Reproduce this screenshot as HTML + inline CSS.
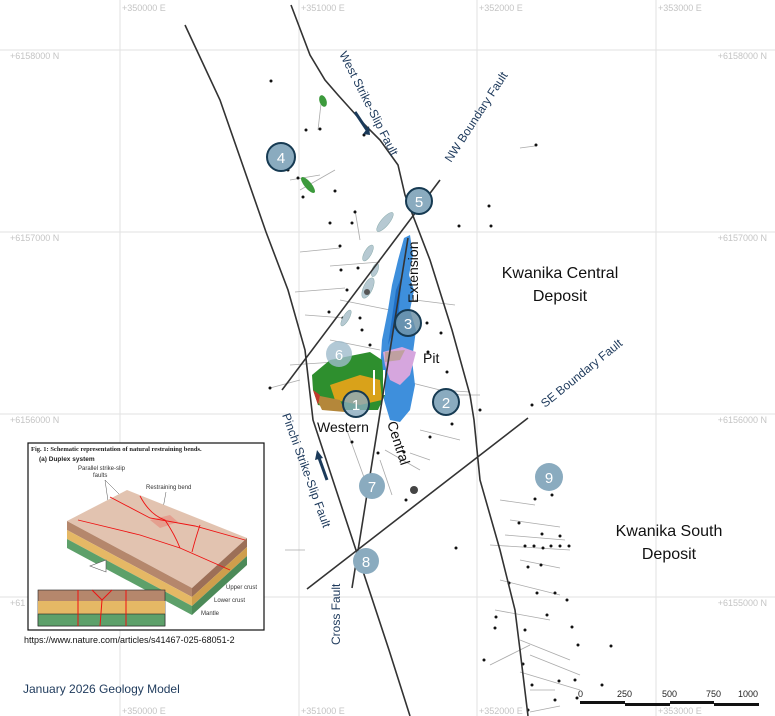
<!DOCTYPE html>
<html><head><meta charset="utf-8"><style>
html,body{margin:0;padding:0;background:#fff;}
svg{display:block;font-family:"Liberation Sans",sans-serif;}
</style></head><body>
<svg width="775" height="716" viewBox="0 0 775 716" xmlns="http://www.w3.org/2000/svg">
<rect width="775" height="716" fill="#fff"/>
<g stroke="#e2e2e2" stroke-width="1">
<line x1="120" y1="0" x2="120" y2="716"/><line x1="299" y1="0" x2="299" y2="716"/>
<line x1="477" y1="0" x2="477" y2="716"/><line x1="656" y1="0" x2="656" y2="716"/>
<line x1="0" y1="50" x2="775" y2="50"/><line x1="0" y1="232" x2="775" y2="232"/>
<line x1="0" y1="414" x2="775" y2="414"/><line x1="0" y1="597" x2="775" y2="597"/>
</g>
<g fill="#c4c4c4" font-size="9">
<text x="122" y="11">+350000 E</text><text x="301" y="11">+351000 E</text>
<text x="479" y="11">+352000 E</text><text x="658" y="11">+353000 E</text>
<text x="122" y="714">+350000 E</text><text x="301" y="714">+351000 E</text>
<text x="479" y="714">+352000 E</text><text x="658" y="714">+353000 E</text>
<text x="10" y="59">+6158000 N</text><text x="10" y="241">+6157000 N</text><text x="10" y="423">+6156000 N</text><text x="10" y="606">+61</text>
<text x="767" y="59" text-anchor="end">+6158000 N</text><text x="767" y="241" text-anchor="end">+6157000 N</text>
<text x="767" y="423" text-anchor="end">+6156000 N</text><text x="767" y="606" text-anchor="end">+6155000 N</text>
</g>
<g stroke="#aaa" stroke-width="0.8" fill="none">
<path d="M300 252 L340 248"/><path d="M330 266 L380 262"/><path d="M295 292 L345 288"/><path d="M305 315 L345 318"/>
<path d="M290 365 L335 362"/><path d="M345 425 L365 480"/><path d="M385 450 L420 470"/><path d="M380 460 L392 495"/>
<path d="M400 380 L460 395"/><path d="M420 430 L460 440"/><path d="M410 453 L430 460"/><path d="M500 500 L535 505"/>
<path d="M510 520 L560 527"/><path d="M505 535 L565 540"/><path d="M490 545 L570 550"/><path d="M520 560 L560 568"/>
<path d="M500 580 L560 595"/><path d="M495 610 L550 620"/><path d="M520 640 L570 660"/><path d="M490 665 L530 645"/>
<path d="M530 655 L580 675"/><path d="M520 672 L580 690"/><path d="M530 690 L555 690"/><path d="M560 706 L530 712"/>
<path d="M305 550 L285 550"/><path d="M318 130 L322 95"/><path d="M290 180 L320 175"/><path d="M300 190 L335 170"/>
<path d="M270 388 L300 380"/><path d="M415 300 L455 305"/><path d="M440 390 L470 392"/><path d="M520 148 L535 146"/>
<path d="M460 395 L480 395"/><path d="M355 210 L360 240"/><path d="M330 340 L380 350"/><path d="M340 300 L390 310"/>
</g>
<g fill="#111">
<circle cx="271" cy="81" r="1.5"/><circle cx="306" cy="130" r="1.5"/><circle cx="320" cy="129" r="1.5"/><circle cx="364" cy="135" r="1.5"/>
<circle cx="288" cy="170" r="1.5"/><circle cx="298" cy="178" r="1.5"/><circle cx="335" cy="191" r="1.5"/><circle cx="303" cy="197" r="1.5"/>
<circle cx="355" cy="212" r="1.5"/><circle cx="330" cy="223" r="1.5"/><circle cx="352" cy="223" r="1.5"/><circle cx="410" cy="206" r="1.5"/>
<circle cx="489" cy="206" r="1.5"/><circle cx="491" cy="226" r="1.5"/><circle cx="459" cy="226" r="1.5"/><circle cx="536" cy="145" r="1.5"/>
<circle cx="340" cy="246" r="1.5"/><circle cx="358" cy="268" r="1.5"/><circle cx="341" cy="270" r="1.5"/><circle cx="347" cy="290" r="1.5"/>
<circle cx="329" cy="312" r="1.5"/><circle cx="343" cy="318" r="1.5"/><circle cx="360" cy="318" r="1.5"/><circle cx="427" cy="323" r="1.5"/>
<circle cx="441" cy="333" r="1.5"/><circle cx="428" cy="352" r="1.5"/><circle cx="447" cy="372" r="1.5"/><circle cx="270" cy="388" r="1.5"/>
<circle cx="480" cy="410" r="1.5"/><circle cx="452" cy="424" r="1.5"/><circle cx="430" cy="437" r="1.5"/><circle cx="441" cy="410" r="1.5"/>
<circle cx="352" cy="442" r="1.5"/><circle cx="378" cy="453" r="1.5"/><circle cx="404" cy="452" r="1.5"/><circle cx="406" cy="500" r="1.5"/>
<circle cx="532" cy="405" r="1.5"/><circle cx="535" cy="499" r="1.5"/><circle cx="552" cy="495" r="1.5"/><circle cx="456" cy="548" r="1.5"/>
<circle cx="519" cy="523" r="1.5"/><circle cx="542" cy="534" r="1.5"/><circle cx="560" cy="536" r="1.5"/><circle cx="525" cy="546" r="1.5"/>
<circle cx="534" cy="546" r="1.5"/><circle cx="543" cy="548" r="1.5"/><circle cx="551" cy="546" r="1.5"/><circle cx="560" cy="546" r="1.5"/>
<circle cx="569" cy="546" r="1.5"/><circle cx="528" cy="567" r="1.5"/><circle cx="541" cy="565" r="1.5"/><circle cx="509" cy="583" r="1.5"/>
<circle cx="537" cy="593" r="1.5"/><circle cx="555" cy="593" r="1.5"/><circle cx="567" cy="600" r="1.5"/><circle cx="547" cy="615" r="1.5"/>
<circle cx="496" cy="617" r="1.5"/><circle cx="525" cy="630" r="1.5"/><circle cx="572" cy="627" r="1.5"/><circle cx="578" cy="645" r="1.5"/>
<circle cx="495" cy="628" r="1.5"/><circle cx="523" cy="664" r="1.5"/><circle cx="602" cy="685" r="1.5"/><circle cx="532" cy="685" r="1.5"/>
<circle cx="559" cy="681" r="1.5"/><circle cx="575" cy="680" r="1.5"/><circle cx="577" cy="698" r="1.5"/><circle cx="555" cy="700" r="1.5"/>
<circle cx="528" cy="710" r="1.5"/><circle cx="484" cy="660" r="1.5"/><circle cx="611" cy="646" r="1.5"/>
<circle cx="362" cy="330" r="1.5"/><circle cx="370" cy="345" r="1.5"/><circle cx="355" cy="365" r="1.5"/><circle cx="345" cy="385" r="1.5"/>
<circle cx="365" cy="392" r="1.5"/><circle cx="330" cy="395" r="1.5"/><circle cx="395" cy="360" r="1.5"/><circle cx="400" cy="355" r="1.5"/>
</g>
<circle cx="414" cy="490" r="4" fill="#444"/>
<ellipse cx="323" cy="101" rx="3.5" ry="6" fill="#3c9a3c" transform="rotate(-20 323 101)"/>
<ellipse cx="308" cy="185" rx="3.5" ry="10" fill="#3c9a3c" transform="rotate(-40 308 185)"/>
<g fill="#b6c9d2" stroke="#8aa" stroke-width="0.5">
<ellipse cx="385" cy="222" rx="4" ry="12" transform="rotate(40 385 222)"/>
<ellipse cx="368" cy="253" rx="3.5" ry="9" transform="rotate(30 368 253)"/>
<ellipse cx="375" cy="270" rx="3" ry="7" transform="rotate(20 375 270)"/>
<ellipse cx="368" cy="288" rx="4.5" ry="11" transform="rotate(25 368 288)"/>
<ellipse cx="346" cy="318" rx="3" ry="9" transform="rotate(30 346 318)"/>
</g>
<circle cx="367" cy="292" r="3" fill="#555"/>
<path d="M404 238 L410 235 L413 255 L409 275 L414 290 L410 310 L416 330 L412 360 L415 385 L410 410 L400 422 L390 420 L384 400 L380 370 L382 340 L388 310 L392 285 L398 260 Z" fill="#3e8fdc"/>
<path d="M396 290 L402 275 L398 320 L388 345 Z" fill="#1f6fc6"/>
<path d="M383 352 L402 347 L416 352 L410 375 L400 385 L390 380 L385 365 Z" fill="#d6a6de"/>
<path d="M385 352 L405 350 L400 360 L385 362 Z" fill="#bfa0a0"/>
<path d="M312 375 L330 360 L370 352 L382 360 L385 395 L378 410 L340 410 L318 405 L313 390 Z" fill="#2e8f2e"/>
<path d="M330 385 L360 375 L380 380 L382 400 L360 405 L335 400 Z" fill="#d9a21a"/>
<path d="M315 395 L340 400 L345 412 L322 410 Z" fill="#b4873a"/>
<path d="M313 390 L320 395 L318 405 Z" fill="#c0392b"/>
<rect x="373" y="370" width="2" height="25" fill="#fff"/><rect x="383" y="370" width="2" height="25" fill="#fff"/>
<g stroke="#333" stroke-width="1.6" fill="none">
<path d="M185 25 L220 100 L266 232 L288 290 L305 350 L313 420 L389 650 L410 716"/>
<path d="M291 5 L310 55 L325 80 L338 95 L365 125 L380 140 L398 165 L405 195 L430 260 L452 330 L470 395 L474 420 L480 480 L500 550 L515 610 L520 650 L528 716"/>
<path d="M282 390 L440 180"/>
<path d="M307 589 L528 418"/>
<path d="M352 588 L408 238"/>
</g>
<path d="M355 112 L367 130" stroke="#1b3a5a" stroke-width="3"/><path d="M363 134 L370 135 L369 126 Z" fill="#1b3a5a"/>
<path d="M318 455 L327 480" stroke="#1b3a5a" stroke-width="3"/><path d="M315 460 L317 450 L323 458 Z" fill="#1b3a5a"/>
<g fill="#1e3a5c" font-size="12">
<text transform="translate(339 54) rotate(63)">West Strike-Slip Fault</text>
<text transform="translate(451 163) rotate(-57)">NW Boundary Fault</text>
<text transform="translate(545 408) rotate(-39)">SE Boundary Fault</text>
<text transform="translate(282 415) rotate(70)">Pinchi Strike-Slip Fault</text>
<text transform="translate(340 645) rotate(-90)">Cross Fault</text>
</g>
<g font-size="15" fill="#fff" text-anchor="middle">
<circle cx="281" cy="157" r="14" fill="#8aabbf" stroke="#163a52" stroke-width="2"/><text x="281" y="163">4</text>
<circle cx="419" cy="201" r="13" fill="#8aabbf" stroke="#163a52" stroke-width="2"/><text x="419" y="207">5</text>
<circle cx="408" cy="323" r="13" fill="#6e93a8" fill-opacity="0.85" stroke="#163a52" stroke-width="2"/><text x="408" y="329">3</text>
<circle cx="339" cy="354" r="13" fill="#9fbccc" fill-opacity="0.8"/><text x="339" y="360">6</text>
<circle cx="356" cy="404" r="13" fill="#8aabbf" fill-opacity="0.8" stroke="#163a52" stroke-width="2"/><text x="356" y="410">1</text>
<circle cx="446" cy="402" r="13" fill="#8aabbf" stroke="#163a52" stroke-width="2"/><text x="446" y="408">2</text>
<circle cx="372" cy="486" r="13" fill="#8aabbf"/><text x="372" y="492">7</text>
<circle cx="366" cy="561" r="13" fill="#8aabbf"/><text x="366" y="567">8</text>
<circle cx="549" cy="477" r="14" fill="#8aabbf"/><text x="549" y="483">9</text>
</g>
<g fill="#111" font-size="14">
<text x="317" y="432">Western</text>
<text transform="translate(387 423) rotate(72)">Central</text>
<text transform="translate(418 303) rotate(-90)">Extension</text>
<text x="423" y="363">Pit</text>
</g>
<g fill="#111" font-size="16" text-anchor="middle">
<text x="560" y="278">Kwanika Central</text><text x="560" y="301">Deposit</text>
<text x="669" y="536">Kwanika South</text><text x="669" y="559">Deposit</text>
</g>
<g font-size="9" fill="#222">
<text x="578" y="697">0</text><text x="617" y="697">250</text><text x="662" y="697">500</text><text x="706" y="697">750</text><text x="738" y="697">1000</text>
</g>
<rect x="580" y="701" width="45" height="3" fill="#111"/><rect x="625" y="703" width="45" height="3" fill="#111"/>
<rect x="670" y="701" width="44" height="3" fill="#111"/><rect x="714" y="703" width="45" height="3" fill="#111"/>
<!-- inset -->
<rect x="28" y="443" width="236" height="187" fill="#fff" stroke="#111" stroke-width="1.2"/>
<text x="31" y="451" font-size="6.5" font-family="Liberation Serif,serif" font-weight="bold" fill="#222">Fig. 1: Schematic representation of natural restraining bends.</text>
<text x="39" y="461" font-size="6.5" font-weight="bold" fill="#222">(a)  Duplex system</text>
<text x="78" y="470" font-size="6" fill="#333">Parallel strike-slip</text><text x="93" y="477" font-size="6" fill="#333">faults</text>
<text x="146" y="489" font-size="6" fill="#333">Restraining bend</text>
<g stroke="#555" stroke-width="0.5"><line x1="105" y1="480" x2="110" y2="515"/><line x1="105" y1="480" x2="125" y2="500"/><line x1="166" y1="492" x2="160" y2="525"/></g>
<polygon points="67,521 127,490 247,538 192,588" fill="#e2c3b0"/>
<polygon points="67,521 192,588 192,597 67,530" fill="#b5876c"/>
<polygon points="67,530 192,597 192,606 67,539" fill="#e5b865"/>
<polygon points="67,539 192,606 192,615 67,548" fill="#5da06a"/>
<polygon points="192,588 247,538 247,547 192,597" fill="#9c6f57"/>
<polygon points="192,597 247,547 247,556 192,606" fill="#cf9e4c"/>
<polygon points="192,606 247,556 247,565 192,615" fill="#4c8a58"/>
<g stroke="#e11" stroke-width="0.9" fill="none">
<path d="M78 520 L140 535 L180 548 L230 570"/><path d="M110 497 L150 518 L195 526 L245 540"/>
<path d="M140 496 Q150 515 165 520 Q175 535 180 548"/><path d="M200 525 Q195 540 192 552"/>
</g>
<polygon points="150,520 170,515 178,522 160,528" fill="#e11" opacity="0.2"/>
<rect x="38" y="590" width="127" height="36" fill="#b5876c" stroke="#222" stroke-width="0.6"/>
<rect x="38" y="601" width="127" height="13" fill="#e5b865"/><rect x="38" y="614" width="127" height="12" fill="#5da06a" stroke="#222" stroke-width="0.6"/>
<g stroke="#e11" stroke-width="1"><line x1="78" y1="590" x2="78" y2="626"/><line x1="126" y1="590" x2="126" y2="626"/><path d="M100 626 L102 600 L92 590 M102 600 L112 590" fill="none"/></g>
<text x="226" y="589" font-size="6" fill="#333">Upper crust</text><text x="214" y="602" font-size="6" fill="#333">Lower crust</text><text x="201" y="615" font-size="6" fill="#333">Mantle</text>
<path d="M106 560 L90 566 L106 572 Z" fill="#fff" stroke="#555" stroke-width="0.6"/>
<text x="24" y="643" font-size="9" fill="#111">https://www.nature.com/articles/s41467-025-68051-2</text>
<text x="23" y="693" font-size="12" fill="#1e3a5c">January 2026 Geology Model</text>
</svg>
</body></html>
